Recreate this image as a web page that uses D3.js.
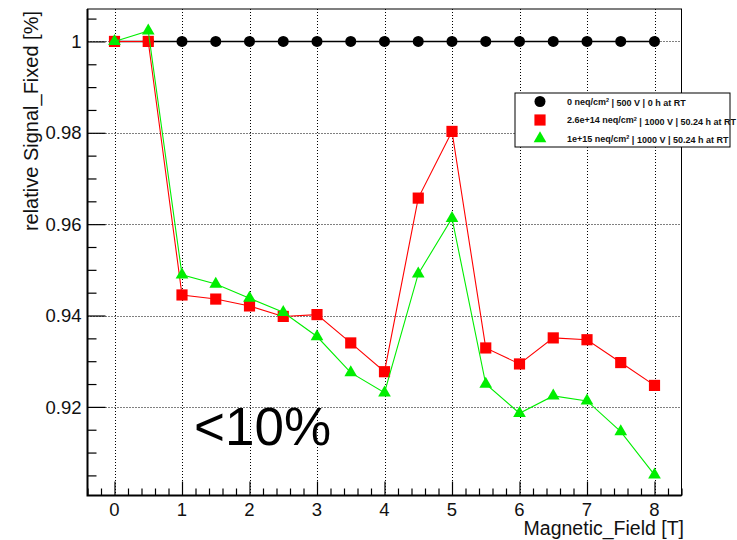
<!DOCTYPE html>
<html>
<head>
<meta charset="utf-8">
<script src="https://cdn.jsdelivr.net/npm/d3@7"></script>
<style>
  html, body { margin: 0; padding: 0; background: #fff; }
  svg { display: block; font-family: "Liberation Sans", Arial, Helvetica, sans-serif; }
</style>
</head>
<body>
<svg id="chart" width="737" height="540"></svg>
<script>
// Magnetic field scan points [T]
const field = [0, 0.5, 1, 1.5, 2, 2.5, 3, 3.5, 4, 4.5, 5, 5.5, 6, 6.5, 7, 7.5, 8];

// Relative fixed-signal per sensor
const unirradiated = [1, 1, 1, 1, 1, 1, 1, 1, 1, 1, 1, 1, 1, 1, 1, 1, 1];
const fluence26e14 = [1.000, 1.000, 0.9445, 0.9436, 0.9421, 0.9398, 0.9402, 0.9340, 0.9277,
                      0.9657, 0.9803, 0.9329, 0.9294, 0.9351, 0.9347, 0.9297, 0.9247];
const fluence1e15  = [1.000, 1.0023, 0.9489, 0.9469, 0.9438, 0.9407, 0.9354, 0.9275, 0.9231,
                      0.9491, 0.9613, 0.9250, 0.9186, 0.9224, 0.9213, 0.9146, 0.9051];

// Legend entries: label text before superscript, superscript, remainder
const legendMain = ["0 neq/cm", "2.6e+14 neq/cm", "1e+15 neq/cm"];
const legendRest = [" | 500 V | 0 h at RT", " | 1000 V | 50.24 h at RT", " | 1000 V | 50.24 h at RT"];

// Axis ticks
const xMajorTicks = [0, 1, 2, 3, 4, 5, 6, 7, 8];
const yMajorTicks = [0.92, 0.94, 0.96, 0.98, 1.00];
const yTickLabels = ["0.92", "0.94", "0.96", "0.98", "1"];

const xTitle = "Magnetic_Field [T]";
const yTitle = "relative Signal_Fixed [%]";
const note = "<10%";

const svg = d3.select("#chart");
const frame = { left: 87.5, right: 681.5, top: 9, bottom: 495.5 };

const x = d3.scaleLinear().domain([-0.4, 8.4]).range([frame.left, frame.right]);
const y = d3.scaleLinear().domain([0.9006, 1.0071]).range([frame.bottom, frame.top]);

// Minor tick positions (every 0.2 T and every 0.005), skipping the majors
const xMinor = d3.range(-0.4, 8.41, 0.2).map(v => +v.toFixed(2)).filter(v => Math.abs(v - Math.round(v)) > 1e-6);
const yMinor = d3.range(0.905, 1.0051, 0.005).map(v => +v.toFixed(3)).filter(v => !yMajorTicks.some(t => Math.abs(t - v) < 1e-6));

// Plot area background
svg.append("rect")
  .attr("x", frame.left).attr("y", frame.top)
  .attr("width", frame.right - frame.left).attr("height", frame.bottom - frame.top)
  .attr("fill", "#fff");

// Dotted grid
const grid = svg.append("g").attr("stroke", "#000").attr("stroke-width", 1).attr("stroke-dasharray", "1,2");
grid.selectAll("line.gx").data(xMajorTicks).join("line")
  .attr("x1", d => Math.round(x(d)) + 0.5).attr("x2", d => Math.round(x(d)) + 0.5)
  .attr("y1", frame.top).attr("y2", frame.bottom);
grid.selectAll("line.gy").data(yMajorTicks).join("line")
  .attr("y1", d => Math.round(y(d)) + 0.5).attr("y2", d => Math.round(y(d)) + 0.5)
  .attr("x1", frame.left).attr("x2", frame.right);

// X axis: major and minor ticks via d3.axis
const xAxisMajor = d3.axisTop(x).tickValues(xMajorTicks).tickSize(14).tickFormat("");
const xAxisMinor = d3.axisTop(x).tickValues(xMinor).tickSize(7).tickFormat("");
[xAxisMajor, xAxisMinor].forEach(ax => {
  const g = svg.append("g").attr("transform", `translate(0,${frame.bottom})`).call(ax);
  g.select(".domain").remove();
  g.selectAll("line").attr("stroke", "#000").attr("stroke-width", 1.2);
});

// Y axis: major and minor ticks
const yAxisMajor = d3.axisRight(y).tickValues(yMajorTicks).tickSize(18).tickFormat("");
const yAxisMinor = d3.axisRight(y).tickValues(yMinor).tickSize(9).tickFormat("");
[yAxisMajor, yAxisMinor].forEach(ax => {
  const g = svg.append("g").attr("transform", `translate(${frame.left},0)`).call(ax);
  g.select(".domain").remove();
  g.selectAll("line").attr("stroke", "#000").attr("stroke-width", 1.2);
});

// Tick labels
svg.append("g").selectAll("text").data(xMajorTicks).join("text")
  .attr("x", d => x(d)).attr("y", 516)
  .attr("text-anchor", "middle").attr("font-size", 18.5).attr("fill", "#111")
  .text(d => d);
svg.append("g").selectAll("text").data(yMajorTicks).join("text")
  .attr("x", 81.5).attr("y", d => y(d)).attr("dy", "0.36em")
  .attr("text-anchor", "end").attr("font-size", 18.5).attr("fill", "#111")
  .text((d, i) => yTickLabels[i]);

// Frame
svg.append("rect")
  .attr("x", frame.left).attr("y", frame.top)
  .attr("width", frame.right - frame.left).attr("height", frame.bottom - frame.top)
  .attr("fill", "none").attr("stroke", "#000").attr("stroke-width", 1);
svg.append("path")
  .attr("d", `M${frame.left},${frame.top}V${frame.bottom}H${frame.right}`)
  .attr("fill", "none").attr("stroke", "#000").attr("stroke-width", 2);

// Axis titles
svg.append("text")
  .attr("x", 684).attr("y", 535).attr("text-anchor", "end")
  .attr("font-size", 19.5).attr("fill", "#111").text(xTitle);
svg.append("text")
  .attr("transform", "translate(37.5,11) rotate(-90)")
  .attr("text-anchor", "end").attr("font-size", 20).attr("fill", "#111").text(yTitle);

// Series
const series = [
  { values: unirradiated, color: "#000000", width: 1.6, marker: "circle" },
  { values: fluence26e14, color: "#ff0000", width: 1.1, marker: "square" },
  { values: fluence1e15,  color: "#00ee00", width: 1.1, marker: "triangle" }
];
const symbolFor = {
  circle: d3.symbol(d3.symbolCircle, 95),
  square: d3.symbol(d3.symbolSquare, 125),
  triangle: d3.symbol(d3.symbolTriangle, 70)
};
const line = d3.line().x(d => x(d[0])).y(d => y(d[1]));

series.forEach(s => {
  const pts = field.map((f, i) => [f, s.values[i]]);
  svg.append("path").datum(pts)
    .attr("d", line).attr("fill", "none")
    .attr("stroke", s.color).attr("stroke-width", s.width);
  svg.append("g").selectAll("path").data(pts).join("path")
    .attr("transform", d => `translate(${x(d[0])},${y(d[1])})`)
    .attr("d", symbolFor[s.marker])
    .attr("fill", s.color);
});

// Annotation
svg.append("text")
  .attr("x", 194).attr("y", 445)
  .attr("font-size", 53).attr("fill", "#000").text(note);

// Legend
const legend = svg.append("g");
legend.append("rect")
  .attr("x", 515).attr("y", 93).attr("width", 215).attr("height", 54)
  .attr("fill", "#fff").attr("stroke", "#000").attr("stroke-width", 1);
const legendY = [101.5, 120, 138.5];
series.forEach((s, i) => {
  legend.append("path")
    .attr("transform", `translate(540,${legendY[i]})`)
    .attr("d", symbolFor[s.marker]).attr("fill", s.color);
  const t = legend.append("text")
    .attr("x", 567).attr("y", legendY[i]).attr("dy", "0.35em")
    .attr("font-size", 9).attr("font-weight", "bold").attr("fill", "#111");
  t.append("tspan").text(legendMain[i]);
  t.append("tspan").attr("dy", "-0.4em").attr("font-size", 5.5).text("2");
  t.append("tspan").attr("dy", "0.4em").text(legendRest[i]);
});
</script>
</body>
</html>
